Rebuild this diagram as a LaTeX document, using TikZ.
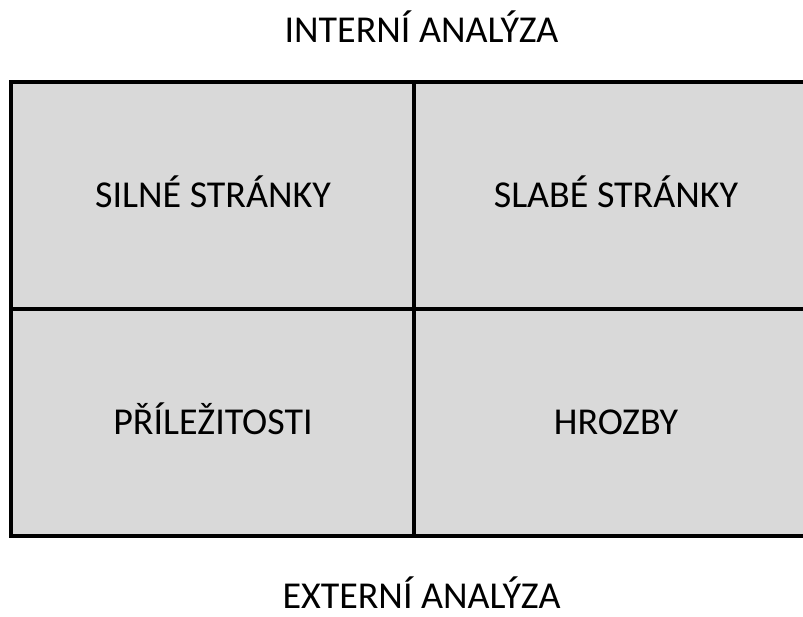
\documentclass[tikz,border=0pt]{standalone}
\usepackage{fontspec}
\setmainfont{Carlito}
\usetikzlibrary{matrix,positioning}

\begin{document}
\begin{tikzpicture}[x=1pt,y=-1pt,
        %Styles
        Grid/.style={
            matrix of nodes,
            inner sep=0pt, outer sep=0pt,
            column sep=-4pt, row sep=-4pt,
            nodes={draw=black, line width=4pt, fill=cellgray,
                   minimum width=403pt, minimum height=227pt,
                   outer sep=0pt, inner sep=0pt,
                   text height=24pt, text depth=0pt,
                   font=\fontsize{38}{42}\selectfont},
        },
        Lab/.style={anchor=base, font=\fontsize{38}{42}\selectfont}
    ]
\definecolor{cellgray}{HTML}{D9D9D9}
\useasboundingbox (0,0) rectangle (803,617);

%swot grid
\matrix[Grid, anchor=north west] at (9.5,80) (sw){
    SILNÉ STRÁNKY & SLABÉ STRÁNKY \\
    PŘÍLEŽITOSTI  & HROZBY \\
};

\node[Lab, xshift=7pt, yshift=37pt](lab1) at (sw.north){INTERNÍ ANALÝZA};
\node[Lab, xshift=7pt, yshift=-70pt](lab2) at (sw.south){EXTERNÍ ANALÝZA};

\end{tikzpicture}
\end{document}
